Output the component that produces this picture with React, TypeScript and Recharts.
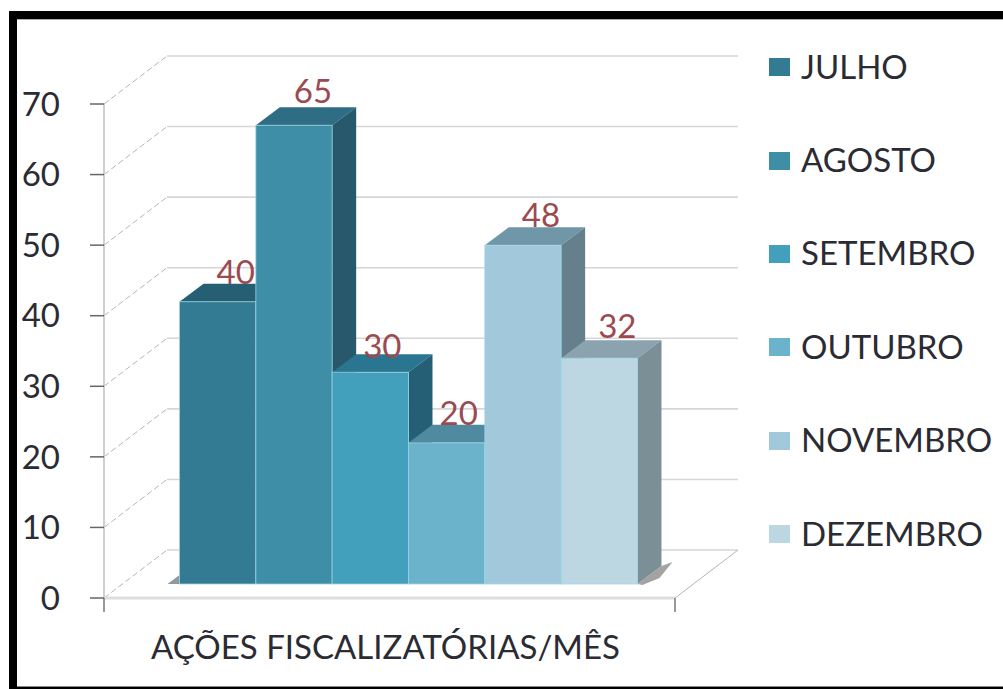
import { Bar, BarChart, CartesianGrid, LabelList, Legend, XAxis, YAxis } from "recharts";

const category = "AÇÕES FISCALIZATÓRIAS/MÊS";
const months = ["JULHO", "AGOSTO", "SETEMBRO", "OUTUBRO", "NOVEMBRO", "DEZEMBRO"];
const actions = [40, 65, 30, 20, 48, 32];
const yTicks = [0, 10, 20, 30, 40, 50, 60, 70];

const frontColors = ["#337b93", "#3e8ea8", "#43a0bd", "#6bb3cb", "#a1c9db", "#bdd7e2"];
const topColors = ["#265f74", "#2f6d84", "#2a7690", "#4f8aa0", "#6f97a8", "#8aa3ae"];
const sideColors = ["#1f5366", "#27586b", "#245f76", "#3f7186", "#65808c", "#7b8f97"];

// the value labels were nudged by hand in the original chart
const labelNudgeX = [18, 19, 12, 12, 18, 18];
const labelNudgeY = [18, 22, 14, 18, 18, 20];

const row: Record<string, string | number> = { name: category };
months.forEach((m, i) => {
  row[m] = actions[i];
});
const data = [row];

const FONT = "Lato, sans-serif";
const FONT_SIZE = 33;
const TEXT = "#2b2b33";
const GRID = "#d6d6d6";

// wall depth of the 3d box, bars sit a bit behind the front axis
const WALL_DX = 63;
const WALL_DY = -48;
const BAR_DX = 18.5;
const BAR_DY = -14;
const BOX_DX = 24;
const BOX_DY = -18;

function GridLine(props: any) {
  const { x1, x2, y1 } = props;
  const isFloor = y1 > 590;
  return (
    <g>
      <line x1={x1} y1={y1} x2={x1 + WALL_DX} y2={y1 + WALL_DY} stroke="#b5b5b5" strokeWidth={1} strokeDasharray="6 3" />
      <line x1={x1 + WALL_DX} y1={y1 + WALL_DY} x2={x2 + WALL_DX} y2={y1 + WALL_DY} stroke={GRID} strokeWidth={1.6} />
      {isFloor && (
        <g>
          <line x1={x2} y1={y1} x2={x2 + WALL_DX} y2={y1 + WALL_DY} stroke="#b5b5b5" strokeWidth={1} />
          <line x1={x1} y1={y1} x2={x2} y2={y1} stroke="#dedede" strokeWidth={3} />
          <line x1={x1} y1={y1} x2={x1} y2={y1 + 14} stroke="#777" strokeWidth={1.5} />
          <line x1={x2} y1={y1} x2={x2} y2={y1 + 14} stroke="#777" strokeWidth={1.5} />
        </g>
      )}
    </g>
  );
}

function Box3D(props: any) {
  const { x, y, width, height, fill, top, side, last, first } = props;
  const left = x + BAR_DX;
  const right = left + width;
  const up = y + BAR_DY;
  const base = up + height;
  return (
    <g>
      {first && <polygon points={`${left - 12},${base} ${left},${base - 9} ${left},${base}`} fill="#8d9aa0" />}
      {last && (
        <polygon
          points={`${right},${base} ${right + BOX_DX},${base + BOX_DY} ${right + BOX_DX + 11},${base + BOX_DY - 4} ${right + 22},${base - 6} ${right + 5},${base + 1}`}
          fill="#a3a3a3"
        />
      )}
      <polygon
        points={`${left},${up} ${left + BOX_DX},${up + BOX_DY} ${right + BOX_DX},${up + BOX_DY} ${right},${up}`}
        fill={top}
      />
      <polygon
        points={`${right},${up} ${right + BOX_DX},${up + BOX_DY} ${right + BOX_DX},${base + BOX_DY} ${right},${base}`}
        fill={side}
      />
      <rect x={left} y={up} width={width} height={height} fill={fill} stroke="#9fd6e6" strokeWidth={1} strokeOpacity={0.75} />
    </g>
  );
}

function ValueLabel(props: any) {
  const { x, y, width, value, series } = props;
  return (
    <text
      x={x + BAR_DX + width / 2 + labelNudgeX[series]}
      y={y + BAR_DY - labelNudgeY[series]}
      textAnchor="middle"
      fontFamily={FONT}
      fontSize={FONT_SIZE}
      fill="#9a4a50"
    >
      {value}
    </text>
  );
}

function LegendList(props: any) {
  return (
    <div>
      {props.payload.map((item: any) => (
        <div
          key={item.value}
          style={{ display: "flex", alignItems: "center", height: 93.4, fontFamily: FONT, fontSize: FONT_SIZE, color: TEXT }}
        >
          <span style={{ width: 21, height: 18, background: item.color, marginRight: 11, marginTop: 3 }} />
          {item.value}
        </div>
      ))}
    </div>
  );
}

export default function App() {
  return (
    <div style={{ position: "fixed", left: 0, top: 0, width: 1003, height: 689, overflow: "hidden", background: "#fff" }}>
      <div
        style={{
          position: "absolute",
          left: 9,
          top: 11,
          width: 1010,
          height: 678,
          boxSizing: "border-box",
          borderLeft: "8px solid #000",
          borderTop: "8px solid #000",
          borderBottom: "2px solid #000"
        }}
      >
        <div style={{ height: "100%", boxSizing: "border-box", borderTop: "1px solid #aaa", borderBottom: "1px solid #888" }} />
      </div>
      <div style={{ position: "absolute", left: 0, top: 0 }}>
        <BarChart
          width={1003}
          height={689}
          data={data}
          margin={{ top: 104, right: 328, bottom: 0, left: 0 }}
          barSize={76.33}
          barGap={0}
        >
          <CartesianGrid vertical={false} horizontal={(p: any) => <GridLine key={p.key ?? p.index} {...p} />} />
          <XAxis
            dataKey="name"
            height={91}
            axisLine={false}
            tickLine={false}
            tickMargin={32}
            tick={{ fill: TEXT, fontSize: FONT_SIZE, fontFamily: FONT, dx: -4 }}
          />
          <YAxis
            width={104}
            domain={[0, 70]}
            ticks={yTicks}
            interval={0}
            axisLine={{ stroke: "#cfcfcf", strokeWidth: 2 }}
            tickLine={{ stroke: "#666", strokeWidth: 1.5 }}
            tickSize={14}
            tickMargin={30}
            tick={{ fill: TEXT, fontSize: FONT_SIZE, fontFamily: FONT }}
          />
          <Legend
            layout="horizontal"
            verticalAlign="middle"
            align="center"
            itemSorter={null}
            content={<LegendList />}
            wrapperStyle={{ position: "absolute", left: 769, top: 19, width: 232 }}
          />
          {months.map((m, i) => (
            <Bar
              key={m}
              dataKey={m}
              fill={frontColors[i]}
              isAnimationActive={false}
              shape={(p: any) => (
                <Box3D {...p} top={topColors[i]} side={sideColors[i]} first={i === 0} last={i === months.length - 1} />
              )}
            >
              <LabelList dataKey={m} content={(p: any) => <ValueLabel {...p} series={i} />} />
            </Bar>
          ))}
        </BarChart>
      </div>
    </div>
  );
}
